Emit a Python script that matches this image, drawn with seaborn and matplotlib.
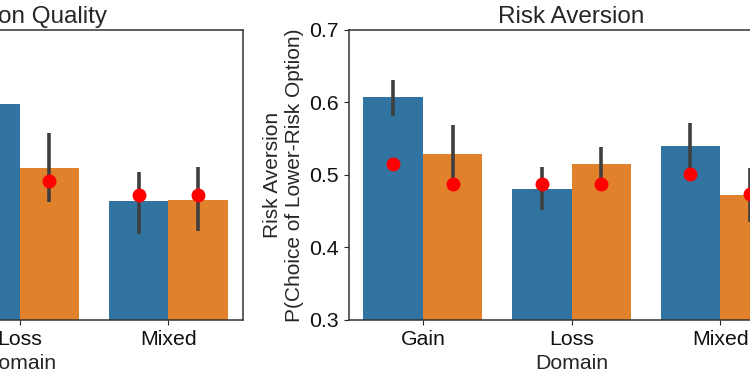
import numpy as np
import pandas as pd
import seaborn as sns
import matplotlib.pyplot as plt

# --- dados ---
dominios = ["Gain", "Loss", "Mixed"]
grupos = ["A", "B"]

# painel esquerdo (Decision Quality) - só parte visível
dq_barra_a = [0.60, 0.598, 0.464]
dq_barra_b = [0.56, 0.510, 0.466]
dq_ponto_a = [0.55, 0.540, 0.472]
dq_ponto_b = [0.52, 0.491, 0.472]
dq_ci_a = [(0.57, 0.63), (0.57, 0.62), (0.419, 0.504)]
dq_ci_b = [(0.52, 0.60), (0.462, 0.557), (0.422, 0.511)]

# painel direito (Risk Aversion)
ra_barra_a = [0.607, 0.480, 0.540]
ra_barra_b = [0.529, 0.515, 0.472]
ra_ponto_a = [0.515, 0.487, 0.501]
ra_ponto_b = [0.488, 0.487, 0.473]
ra_ci_a = [(0.581, 0.631), (0.452, 0.511), (0.503, 0.572)]
ra_ci_b = [(0.491, 0.569), (0.490, 0.539), (0.435, 0.509)]


def monta_df(barra_a, barra_b, ponto_a, ponto_b, ci_a, ci_b):
    linhas = []
    for g, barras, pontos, cis in [("A", barra_a, ponto_a, ci_a), ("B", barra_b, ponto_b, ci_b)]:
        for d, b, p, ci in zip(dominios, barras, pontos, cis):
            linhas.append({"Domain": d, "Grupo": g, "barra": b, "ponto": p, "lo": ci[0], "hi": ci[1]})
    return pd.DataFrame(linhas)


def desenha(ax, df, titulo, ylabel):
    sns.barplot(data=df, x="Domain", y="barra", hue="Grupo", order=dominios,
                hue_order=grupos, errorbar=None, legend=False, linewidth=0, ax=ax)
    # barras de erro nas posições das barras
    for cont, g in zip(ax.containers, grupos):
        sub = df[df["Grupo"] == g].set_index("Domain").loc[dominios]
        xs = [p.get_x() + p.get_width() / 2 for p in cont.patches]
        ax.vlines(xs, sub["lo"], sub["hi"], color="#3f3f3f", linewidth=2.6, zorder=3)
    sns.pointplot(data=df, x="Domain", y="ponto", hue="Grupo", order=dominios,
                  hue_order=grupos, palette=["red", "red"], dodge=0.4,
                  linestyle="none", errorbar=None, markersize=8,
                  legend=False, ax=ax)
    for col in ax.collections:
        col.set_zorder(5)
    for ln in ax.lines:
        ln.set_zorder(5)
    ax.set_ylim(0.3, 0.7)
    ax.set_yticks([0.3, 0.4, 0.5, 0.6, 0.7])
    ax.set_title(titulo, fontsize=17.5, pad=5)
    ax.set_ylabel(ylabel, fontsize=15)
    ax.set_xlabel("Domain", fontsize=15.3)
    ax.tick_params(labelsize=15.3, labelcolor="#111111")


sns.set_style("ticks")
plt.rcParams["font.family"] = ["Liberation Sans", "DejaVu Sans"]
plt.rcParams["axes.edgecolor"] = "#333333"
plt.rcParams["axes.linewidth"] = 1.1

fig = plt.figure(figsize=(7.5, 3.75), dpi=100)
ax1 = fig.add_axes([-0.2711, 0.1467, 0.5947, 0.7741])
ax2 = fig.add_axes([0.4647, 0.1467, 0.5947, 0.7741])

desenha(ax1, monta_df(dq_barra_a, dq_barra_b, dq_ponto_a, dq_ponto_b, dq_ci_a, dq_ci_b),
        "Decision Quality", "Decision Quality")
desenha(ax2, monta_df(ra_barra_a, ra_barra_b, ra_ponto_a, ra_ponto_b, ra_ci_a, ra_ci_b),
        "Risk Aversion", "Risk Aversion\nP(Choice of Lower-Risk Option)")

fig.savefig("out.png", dpi=100)
